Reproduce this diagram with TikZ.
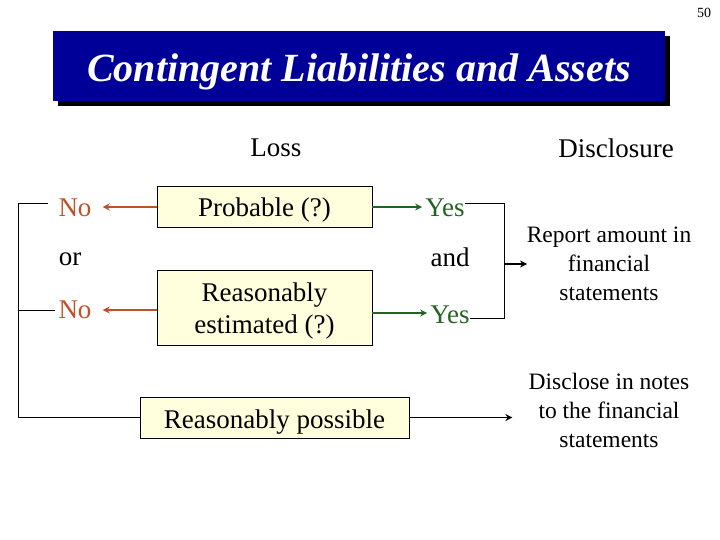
\documentclass[tikz,border=0pt]{standalone}
\usepackage{fontspec}
\setmainfont{Liberation Serif}
\usetikzlibrary{arrows.meta,shadows}
\definecolor{titleblue}{RGB}{0,0,153}
\definecolor{noRed}{RGB}{192,80,42}
\definecolor{yesGreen}{RGB}{35,100,35}
\definecolor{boxFill}{RGB}{255,255,221}
\begin{document}
\begin{tikzpicture}[x=1pt,y=-1pt,
  cbox/.style={draw=black, line width=0.9pt, fill=boxFill, inner sep=0pt, font=\fontsize{27}{32}\selectfont},
  big/.style={font=\fontsize{27}{32}\selectfont, inner sep=0pt},
  small/.style={font=\fontsize{23.5}{29}\selectfont, inner sep=0pt, align=center},
  tip/.style={-{Stealth[length=7pt,width=7pt]}},
  redarrow/.style={draw=noRed, line width=2pt, tip},
  greenarrow/.style={draw=yesGreen, line width=2pt, tip},
  blackline/.style={draw=black, line width=1pt},
  blackarrow/.style={draw=black, line width=1.8pt, tip},
  titlebox/.style={fill=titleblue, minimum width=612pt, minimum height=70pt, inner sep=0pt,
    text=white, font=\fontsize{40}{44}\selectfont\bfseries\itshape,
    text height=36pt, text depth=4pt,
    drop shadow={shadow xshift=5pt, shadow yshift=-5pt, fill=black, opacity=1}}
]
\useasboundingbox (0,0) rectangle (720,540);

\node[font=\fontsize{14}{16}\selectfont, inner sep=0pt] (pg) at (704,13) {50};
\node[titlebox] (title) at (359,66) {Contingent Liabilities and Assets};

\node[big] (loss) at (276,148) {Loss};
\node[big] (disc) at (616,148) {Disclosure};

\node[cbox, minimum width=215pt, minimum height=41pt, text height=24pt, text depth=4pt] (prob) at (264.5,207) {Probable (?)};
\node[cbox, minimum width=215pt, minimum height=75pt, text height=0pt, text depth=13pt] (est) at (264.5,307.5)
  {\begin{tabular}[t]{@{}c@{}}Reasonably\\estimated (?)\end{tabular}};
\node[cbox, minimum width=269pt, minimum height=41pt, text height=25pt, text depth=4pt] (poss) at (274.5,417.5) {Reasonably possible};

\node[big, text=noRed] (no1) at (75,208) {No};
\node[big, text=noRed] (no2) at (75,310) {No};
\node[big] (or) at (70,259) {or};

\node[big, text=yesGreen] (yes1) at (445,208) {Yes};
\node[big, text=yesGreen] (yes2) at (450,315) {Yes};
\node[big] (and) at (450,257) {and};

\node[small] (rep) at (609,264) {Report amount in\\financial\\statements};
\node[small] (notes) at (609,410) {Disclose in notes\\to the financial\\statements};

% red arrows
\draw[redarrow, shorten >=11pt] (prob.west) -- (prob.west -| no1.east);
\draw[redarrow, shorten >=11pt] (est.west |- no2) -- (no2.east);

% green arrows
\draw[greenarrow, shorten >=3pt] (prob.east) -- (prob.east -| yes1.west);
\draw[greenarrow, shorten >=3pt] ([yshift=2pt]est.east |- yes2) -- ([yshift=2pt]yes2.west);

% left bracket
\coordinate (lx) at (18,204);
\draw[blackline] ([xshift=-10pt, yshift=4pt]no1.west) -- (lx) |- (poss.west);
\draw[blackline] ([xshift=-3pt]no2.west) -- (no2.west -| lx);

% right bracket
\coordinate (br) at (504,264);
\draw[blackline] ([yshift=4pt]yes1.east) -- ([yshift=4pt]yes1.east -| br) -- ([yshift=-3pt]yes2.east -| br) -- ([yshift=-3pt]yes2.east);
\draw[blackarrow] (br) -- ([xshift=23pt]br);

% possible -> notes
\draw[blackarrow] (poss.east) -- ([xshift=103pt]poss.east);
\end{tikzpicture}
\end{document}
